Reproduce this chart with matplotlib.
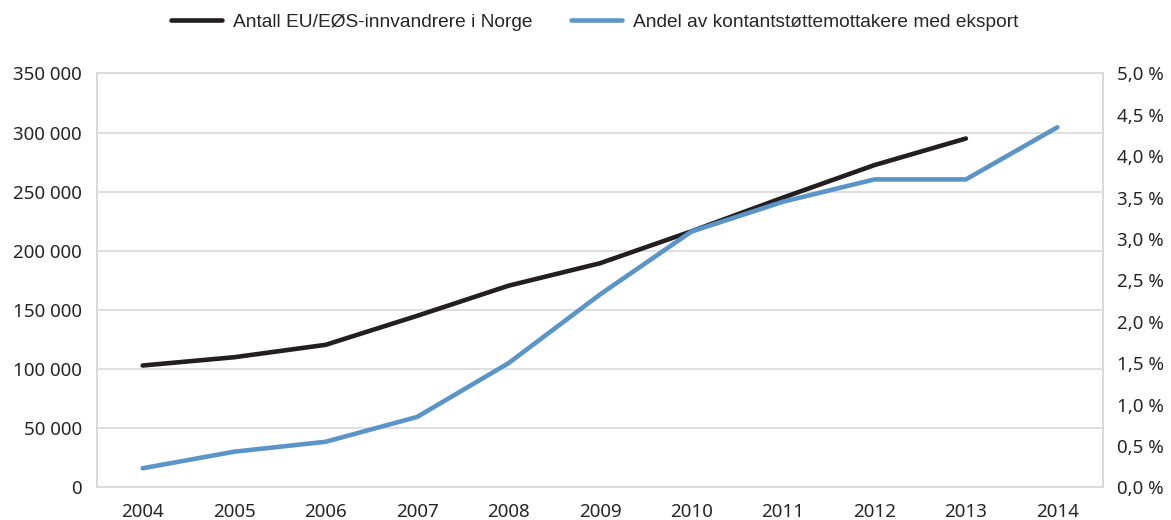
import matplotlib
matplotlib.use("Agg")
import matplotlib.pyplot as plt
from matplotlib.ticker import FuncFormatter, MultipleLocator

plt.rcParams['font.family'] = ['Noto Sans', 'DejaVu Sans']

years = ['2004', '2005', '2006', '2007', '2008', '2009', '2010', '2011', '2012', '2013', '2014']
innvandrere = [103000, 110000, 120500, 145000, 170500, 189500, 216500, 245000, 272500, 295000]
andel_eksport = [0.23, 0.43, 0.55, 0.85, 1.50, 2.33, 3.09, 3.45, 3.72, 3.72, 4.35]

label_black = 'Antall EU/EØS-innvandrere i Norge'
label_blue = 'Andel av kontantstøttemottakere med eksport'

black = '#231f20'
blue = '#5b95c8'
grid = '#d9d9d9'
txt = '#262626'

fig = plt.figure(figsize=(11.71, 5.2), dpi=100)
ax = fig.add_axes([0.0828, 0.0629, 0.8592, 0.7958])
ax2 = ax.twinx()

x = list(range(len(years)))
l1, = ax.plot(x[:len(innvandrere)], innvandrere, color=black, lw=3.3, solid_capstyle='round', zorder=3)
l2, = ax2.plot(x, andel_eksport, color=blue, lw=3.3, solid_capstyle='round', zorder=3)

ax.set_xlim(-0.5, len(years) - 0.5)
ax.set_ylim(0, 350000)
ax2.set_ylim(0, 5.0)
ax.set_xticks(x)
ax.set_xticklabels(years)
ax.yaxis.set_major_locator(MultipleLocator(50000))
ax2.yaxis.set_major_locator(MultipleLocator(0.5))
ax.yaxis.set_major_formatter(FuncFormatter(lambda v, p: f"{int(v):,}".replace(',', ' ')))
ax2.yaxis.set_major_formatter(FuncFormatter(lambda v, p: f"{v:.1f}".replace('.', ',') + ' %'))

ax.grid(axis='y', color=grid, lw=1.2)
ax.set_axisbelow(True)
for a in (ax, ax2):
    for s in a.spines.values():
        s.set_color(grid)
        s.set_linewidth(1.2)
    a.tick_params(length=0, labelsize=13.5, labelcolor=txt)
ax.tick_params(axis='y', pad=11)
ax2.tick_params(axis='y', pad=10)
ax.tick_params(axis='x', pad=11)

fig.legend([l1, l2], [label_black, label_blue], loc='center', bbox_to_anchor=(0.508, 0.958),
           ncol=2, frameon=False, prop={'family': ['Liberation Sans'], 'size': 13.8},
           handlelength=2.65, handletextpad=0.6, columnspacing=2.0, labelcolor=txt)

fig.savefig('out.png', dpi=100)
